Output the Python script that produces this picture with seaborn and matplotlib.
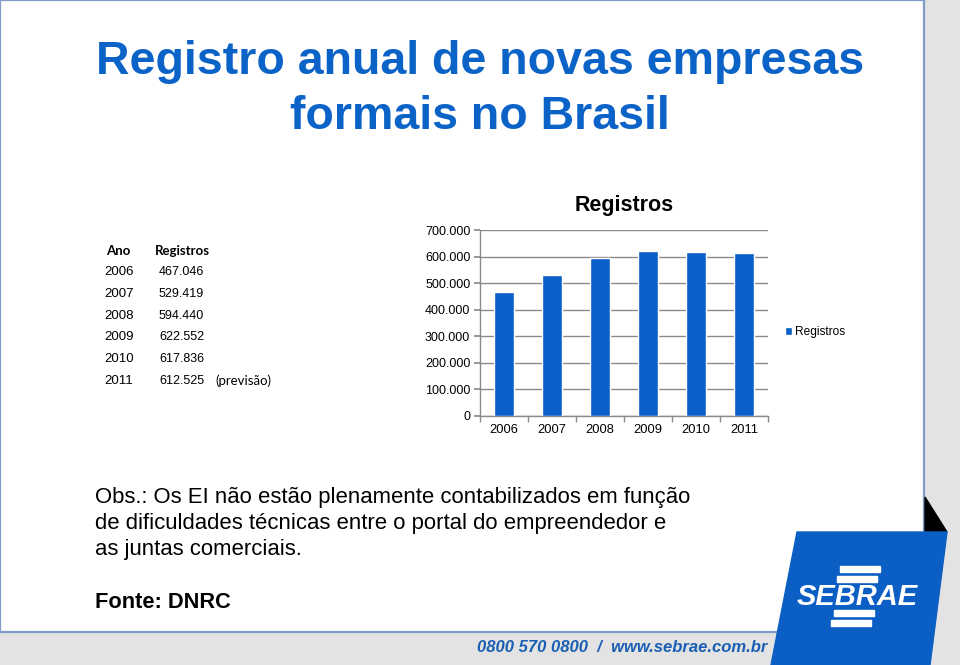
import matplotlib
matplotlib.use("Agg")
import matplotlib.pyplot as plt
import seaborn as sns
import pandas as pd
from matplotlib.patches import Rectangle, Polygon
from matplotlib.ticker import FuncFormatter, FixedLocator

# ---- data ----
years = ["2006", "2007", "2008", "2009", "2010", "2011"]
registros = [467046, 529419, 594440, 622552, 617836, 612525]
table_values = ["467.046", "529.419", "594.440", "622.552", "617.836", "612.525"]
y_ticks = [0, 100000, 200000, 300000, 400000, 500000, 600000, 700000]

title_lines = ["Registro anual de novas empresas", "formais no Brasil"]
obs_lines = ["Obs.: Os EI não estão plenamente contabilizados em função",
             "de dificuldades técnicas entre o portal do empreendedor e",
             "as juntas comerciais."]
fonte = "Fonte: DNRC"
footer = "0800 570 0800  /  www.sebrae.com.br"

sns.set_theme(style="white")
plt.rcParams['font.family'] = ['Liberation Sans', 'DejaVu Sans']
plt.rcParams['text.color'] = 'black'
plt.rcParams['xtick.color'] = 'black'
plt.rcParams['ytick.color'] = 'black'
plt.rcParams['axes.labelcolor'] = 'black'

W, H = 960, 665
fig = plt.figure(figsize=(9.6, 6.65), dpi=100)

# ---- background overlay axes (pixel coords) ----
bg = fig.add_axes([0, 0, 1, 1], zorder=0)
bg.set_xlim(0, W)
bg.set_ylim(H, 0)
bg.axis("off")
grey = "#e3e3e3"
bg.add_patch(Rectangle((0, 0), W, H, color=grey, zorder=0))
bg.add_patch(Rectangle((0, 0), 924, 632, facecolor="white",
                       edgecolor="#7d9dc8", lw=1.6, zorder=1))
# black triangle behind logo
bg.add_patch(Polygon([(925, 497), (947, 532), (925, 532)], closed=True,
                     color="black", zorder=2))
# logo parallelogram
blue_logo = "#0b5fc4"
bg.add_patch(Polygon([(797, 532), (947, 532), (930, H), (771, H)], closed=True,
                     color=blue_logo, zorder=3))
for (x0, y0, w, h) in [(840, 566, 40, 6), (837, 576, 40, 6),
                       (834, 610, 40, 6), (831, 620, 40, 6)]:
    bg.add_patch(Rectangle((x0, y0), w, h, color="white", zorder=4))
bg.text(857, 597, "SEBRAE", color="white", fontsize=21, fontweight="bold",
        fontstyle="italic", ha="center", va="center", zorder=5)

# titles
title_blue = "#0b63c8"
bg.text(480, 62, title_lines[0], color=title_blue, fontsize=33.5,
        fontweight="bold", ha="center", va="center", zorder=5)
bg.text(480, 117, title_lines[1], color=title_blue, fontsize=33.5,
        fontweight="bold", ha="center", va="center", zorder=5)

# table
bg.text(118, 251, "Ano", fontsize=9.5, fontweight="bold", ha="center",
        va="center", family=["Lato", "DejaVu Sans"], zorder=5)
bg.text(182.5, 251, "Registros", fontsize=9.5, fontweight="bold", ha="center",
        va="center", family=["Lato", "DejaVu Sans"], zorder=5)
row_y = [272, 294, 316, 337, 359, 381]
for yr, val, yy in zip(years, table_values, row_y):
    bg.text(104, yy, yr, fontsize=9.5, ha="left", va="center", zorder=5)
    bg.text(159, yy, val, fontsize=9, ha="left", va="center", zorder=5)
bg.text(215, row_y[-1], "(previsão)", fontsize=9.5, ha="left", va="center",
        family=["Lato", "DejaVu Sans"], zorder=5)

# obs
for i, line in enumerate(obs_lines):
    bg.text(95, 497 + 26 * i, line, fontsize=15.9, ha="left", va="center", zorder=5)
bg.text(95, 603, fonte, fontsize=15.7, fontweight="bold", ha="left",
        va="center", zorder=5)

# footer
bg.text(477, 647, footer, color="#1a5fb4", fontsize=12, fontweight="bold",
        fontstyle="italic", ha="left", va="center", zorder=5)

# ---- chart ----
ax = fig.add_axes([480 / W, 1 - 416 / H, 288 / W, (416 - 230) / H], zorder=2)
ax.patch.set_alpha(0)
df = pd.DataFrame({"Ano": years, "Registros": registros})
sns.barplot(data=df, x="Ano", y="Registros", color="#0a5fc8", width=0.4,
            saturation=1, ax=ax, label="Registros", zorder=3)
ax.set_xlim(-0.5, 5.5)
ax.set_ylim(0, 700000)
ax.set_yticks(y_ticks)
ax.yaxis.set_major_formatter(FuncFormatter(lambda v, p: f"{int(v):,}".replace(",", ".")))
ax.grid(axis="y", color="#8a8a8a", lw=1, zorder=0)
ax.set_axisbelow(True)
for s in ["top", "right"]:
    ax.spines[s].set_visible(False)
for s in ["left", "bottom"]:
    ax.spines[s].set_color("#8a8a8a")
    ax.spines[s].set_linewidth(1)
ax.set_xlabel("")
ax.set_ylabel("")
ax.tick_params(axis="y", which="major", length=4, color="#8a8a8a", left=True,
               labelsize=9, pad=3)
ax.tick_params(axis="x", which="major", length=0, labelsize=9.3, pad=6)
ax.xaxis.set_minor_locator(FixedLocator([-0.5, 0.5, 1.5, 2.5, 3.5, 4.5, 5.5]))
ax.tick_params(axis="x", which="minor", length=4, color="#8a8a8a", bottom=True)
ax.set_title("Registros", fontsize=15.5, fontweight="bold", pad=14, color="black")
leg = ax.legend(loc="center left", bbox_to_anchor=(1.02, 0.45), frameon=False,
                fontsize=8.6, handlelength=0.6, handleheight=0.6, handletextpad=0.3)

fig.savefig("out.png", dpi=100)
